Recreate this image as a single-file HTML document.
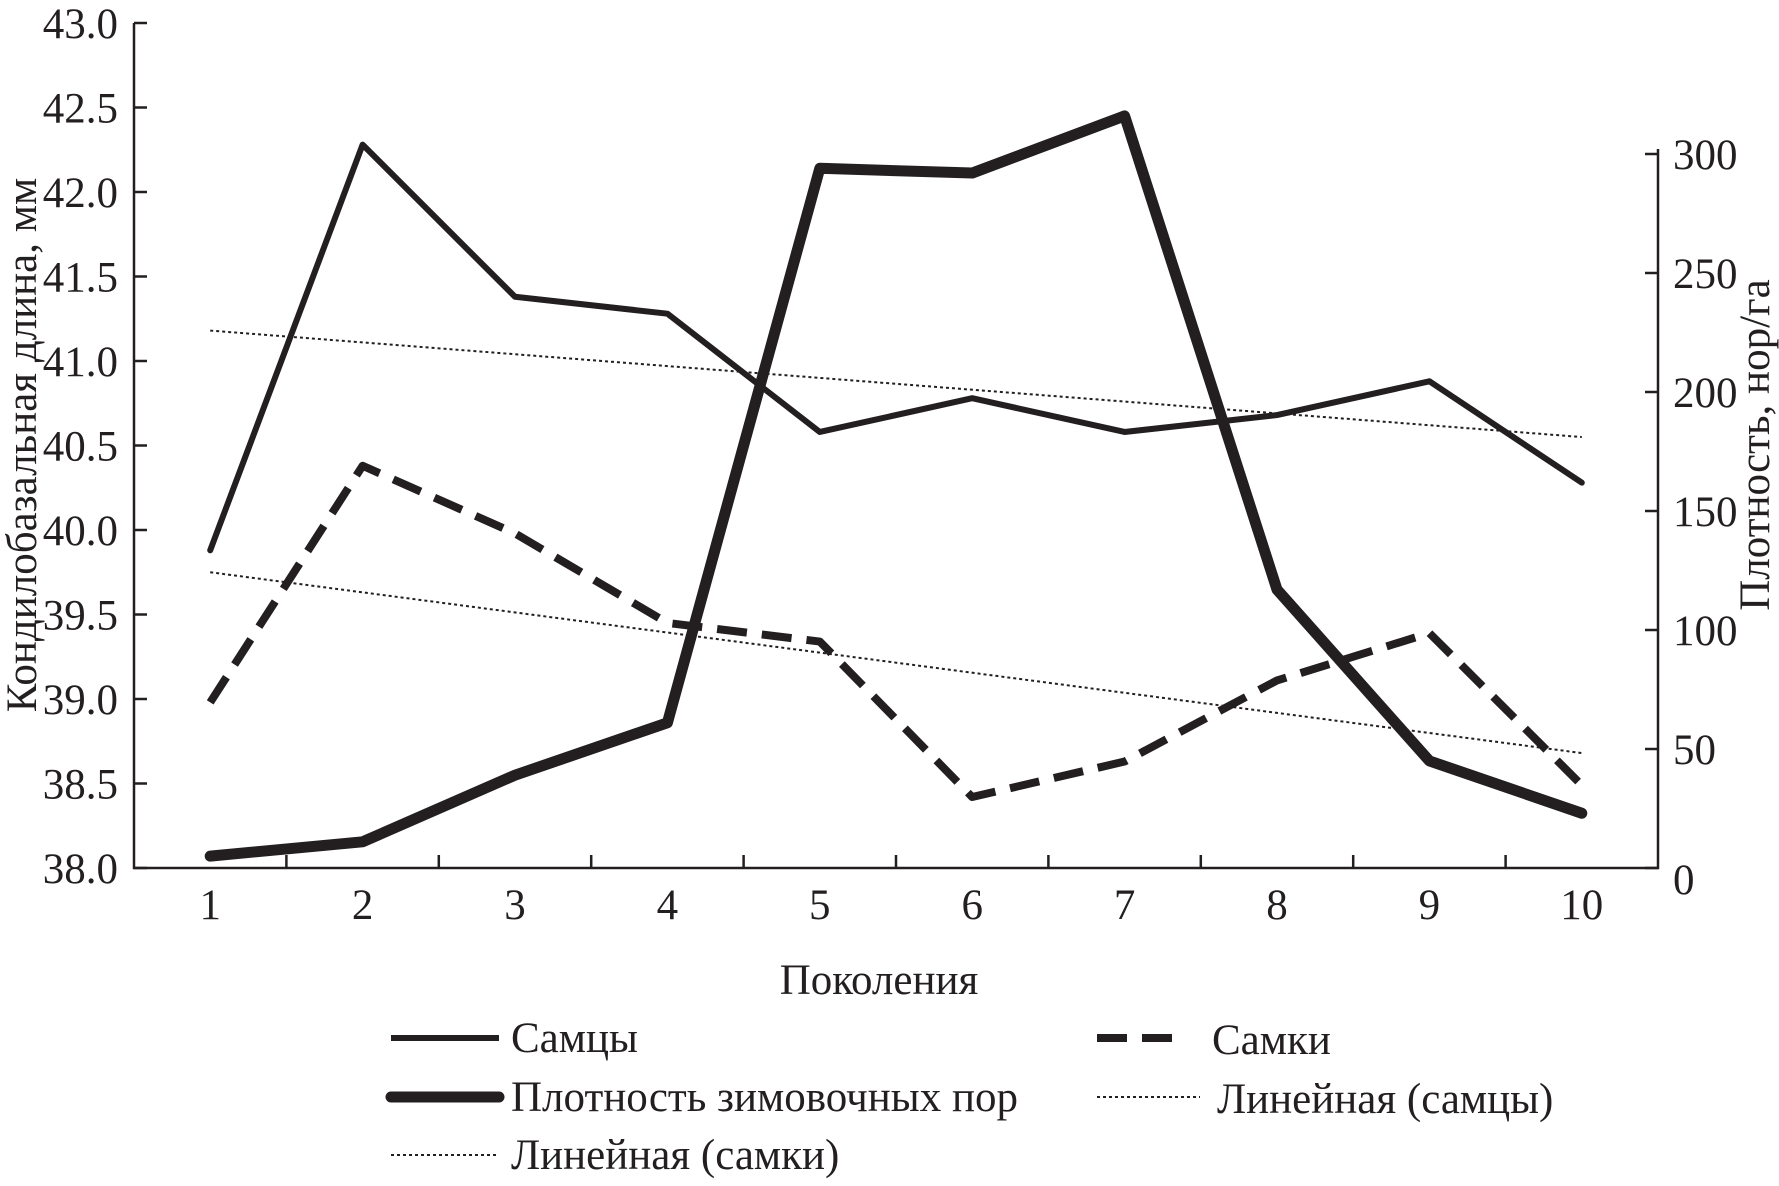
<!DOCTYPE html>
<html><head><meta charset="utf-8"><style>
body{margin:0;background:#fff}
svg text{font-family:"Liberation Serif","DejaVu Serif",serif;fill:#231f20}
</style></head><body>
<svg width="1779" height="1181" viewBox="0 0 1779 1181" font-family="Liberation Serif, DejaVu Serif, serif">
<g id="plot"></g>
<g id="axes"></g>
<text x="879" y="994" font-size="43" text-anchor="middle">Поколения</text>
<text transform="translate(36,445) rotate(-90)" font-size="43" text-anchor="middle">Кондилобазальная длина, мм</text>
<text transform="translate(1769,445) rotate(-90)" font-size="43" text-anchor="middle">Плотность, нор/га</text>
<g stroke="#231f20" fill="none">
<line x1="391" y1="1038" x2="499" y2="1038" stroke-width="6"/>
<line x1="1097" y1="1038" x2="1186" y2="1038" stroke-width="8" stroke-dasharray="30,15"/>
<line x1="391" y1="1097" x2="499" y2="1097" stroke-width="11" stroke-linecap="round"/>
<line x1="1097" y1="1097" x2="1200" y2="1097" stroke-width="2" stroke-dasharray="3,3"/>
<line x1="391" y1="1155" x2="499" y2="1155" stroke-width="2" stroke-dasharray="3,3"/>
</g>
<text x="511" y="1052" font-size="43">Самцы</text>
<text x="1212" y="1054" font-size="43">Самки</text>
<text x="511" y="1111" font-size="43">Плотность зимовочных пор</text>
<text x="1217" y="1113" font-size="43">Линейная (самцы)</text>
<text x="511" y="1169" font-size="43">Линейная (самки)</text>
</svg>
<script>
const categories=[1,2,3,4,5,6,7,8,9,10];
const males=[39.88,42.28,41.38,41.28,40.58,40.78,40.58,40.68,40.88,40.28];
const females=[38.98,40.38,39.98,39.45,39.34,38.42,38.63,39.11,39.39,38.49];
const density=[5,11,39,61,294,292,316,117,45,23];
const trendMales=[41.18,40.55];
const trendFemales=[39.75,38.68];
const leftTicks=[38.0,38.5,39.0,39.5,40.0,40.5,41.0,41.5,42.0,42.5,43.0];
const rightTicks=[0,50,100,150,200,250,300];
const X0=134,X1=1658,Y0=868,Y1=23;
const bw=(X1-X0)/categories.length;
const x=i=>X0+bw*(i+0.5);
const yl=v=>Y0-(v-38)/5*(Y0-Y1);
const yr=v=>Y0-v/300*714;
const NS='http://www.w3.org/2000/svg';
const plot=document.getElementById('plot'),axes=document.getElementById('axes');
function mk(p,t,a){const e=document.createElementNS(NS,t);for(const k in a)e.setAttribute(k,a[k]);p.appendChild(e);return e;}
function poly(vals,yf,w,dash,name){
 const e=mk(plot,'polyline',{points:vals.map((v,i)=>x(i)+','+yf(v)).join(' '),fill:'none',stroke:'#231f20','stroke-width':w,'stroke-linejoin':'round','stroke-linecap':dash?'butt':'round'});
 if(dash)e.setAttribute('stroke-dasharray',dash);
 
 
}
function trend(t,name){
 const e=mk(plot,'line',{x1:x(0),y1:yl(t[0]),x2:x(categories.length-1),y2:yl(t[1]),stroke:'#231f20','stroke-width':2,'stroke-dasharray':'3,3'});
 
 
}
trend(trendMales,'trend-males');
trend(trendFemales,'trend-females');
poly(females,yl,8,'30,15','females-line');
poly(males,yl,6,null,'males-line');
poly(density,yr,11,null,'density-line');
const A={stroke:'#231f20','stroke-width':2.5,fill:'none'};
let e=mk(axes,'polyline',Object.assign({points:`${X0},${Y1} ${X0},${Y0} ${X1},${Y0} ${X1},${yr(300)-5}`},A));


leftTicks.forEach(v=>{
 mk(axes,'line',Object.assign({x1:X0,x2:X0+13,y1:yl(v),y2:yl(v)},A));
 const t=mk(axes,'text',{x:118,y:yl(v)+15,'font-size':43,'text-anchor':'end'});t.textContent=v.toFixed(1);
 
 
});
rightTicks.forEach(v=>{
 mk(axes,'line',Object.assign({x1:X1-13,x2:X1,y1:yr(v),y2:yr(v)},A));
 const t=mk(axes,'text',{x:1673,y:yr(v)+(v===0?26:15),'font-size':43});t.textContent=v;
 
 
});
categories.forEach((c,i)=>{
 if(i>0)mk(axes,'line',Object.assign({x1:X0+bw*i,x2:X0+bw*i,y1:Y0,y2:Y0-13},A));
 const t=mk(axes,'text',{x:x(i),y:919,'font-size':43,'text-anchor':'middle'});t.textContent=c;
 
 
});
</script>
</body></html>
